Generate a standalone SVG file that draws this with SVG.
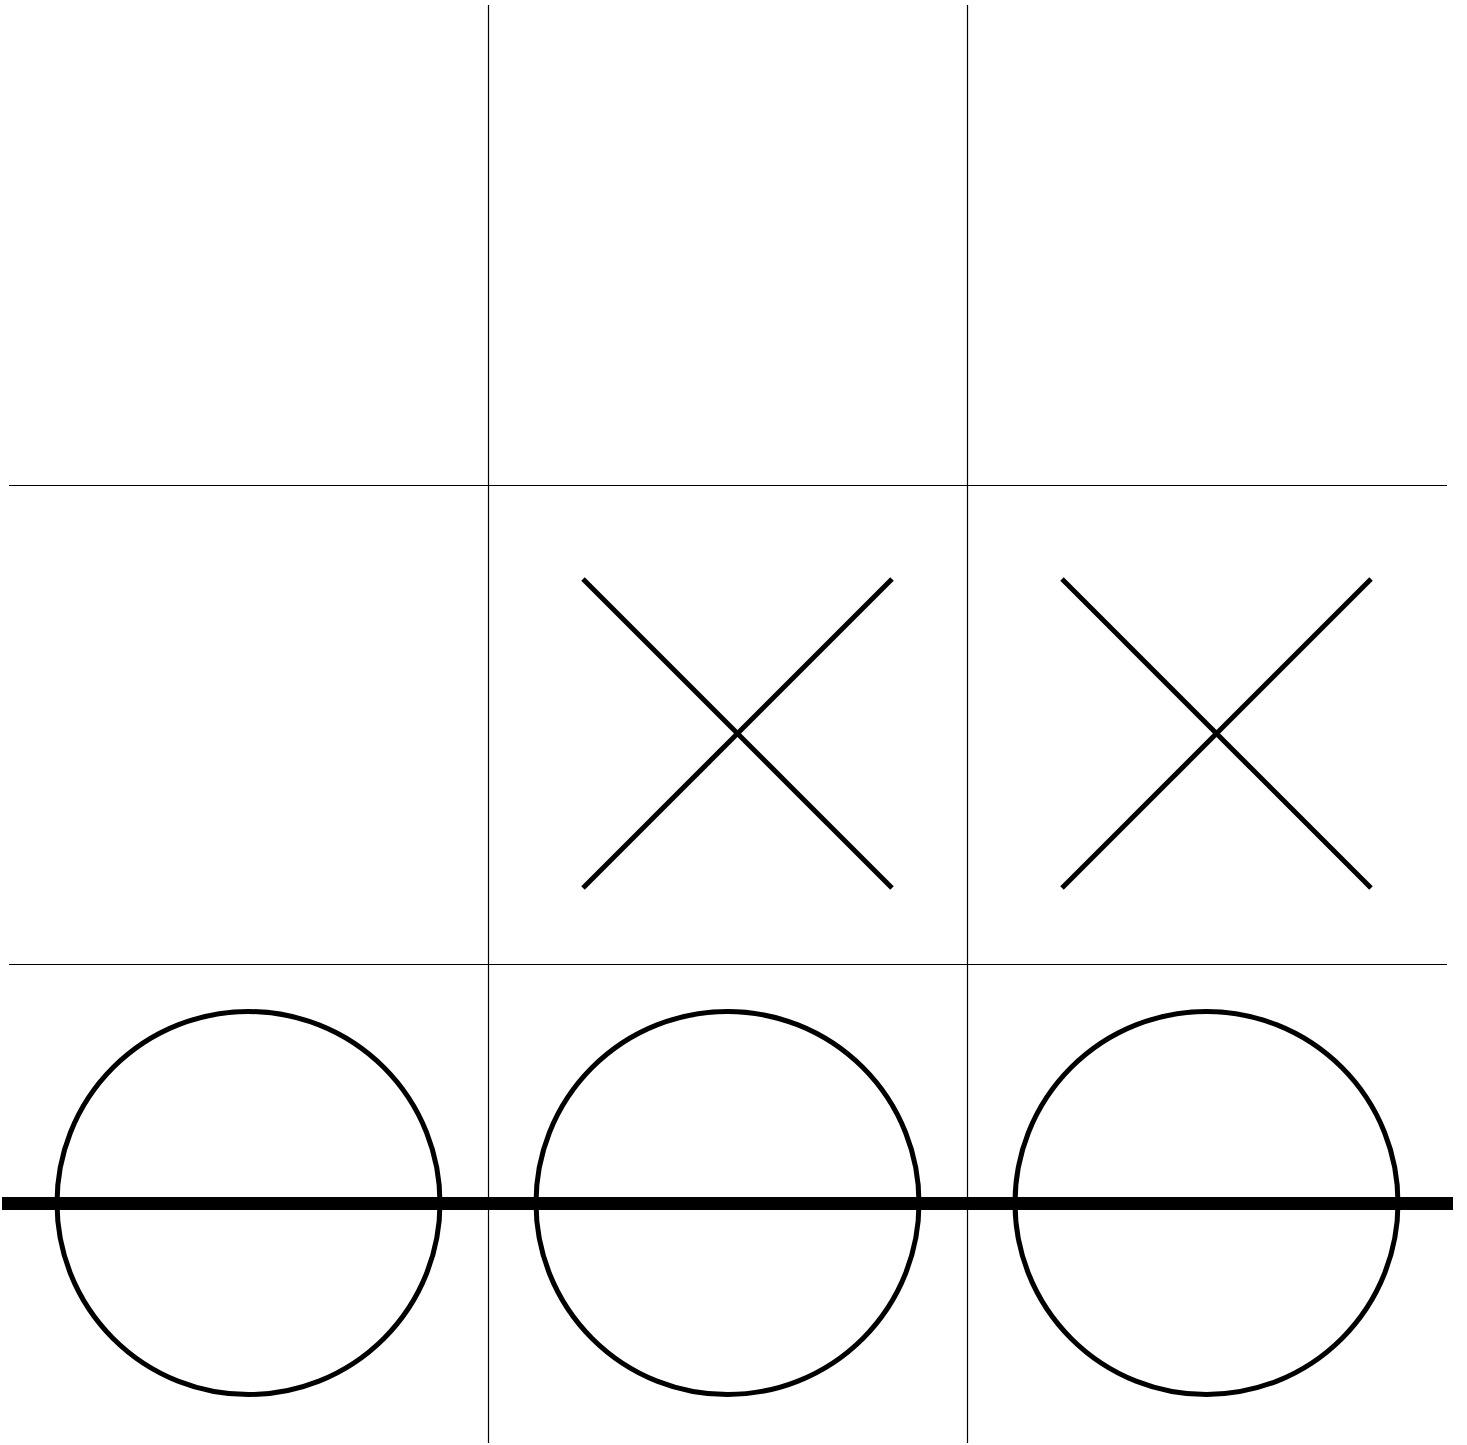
<svg xmlns="http://www.w3.org/2000/svg" width="1467" height="1445" viewBox="0 0 1467 1445">
<style>
.grid{stroke:#000;stroke-width:1.2;fill:none}
.x{stroke:#000;stroke-width:5;fill:none}
.o{stroke:#000;stroke-width:5;fill:none}
.win{stroke:#000;stroke-width:13;fill:none}
</style>
<rect width="1467" height="1445" fill="#fff"/>
<g id="grid">
<line class="grid" x1="488.5" y1="5" x2="488.5" y2="1443"/>
<line class="grid" x1="967.5" y1="5" x2="967.5" y2="1443"/>
<line class="grid" x1="9" y1="485.5" x2="1447" y2="485.5"/>
<line class="grid" x1="9" y1="964.5" x2="1447" y2="964.5"/>
</g>
<g id="x1">
<line class="x" x1="583" y1="579" x2="892" y2="888"/>
<line class="x" x1="892" y1="579" x2="583" y2="888"/>
</g>
<g id="x2">
<line class="x" x1="1062" y1="579" x2="1371" y2="888"/>
<line class="x" x1="1371" y1="579" x2="1062" y2="888"/>
</g>
<g id="o1"><circle class="o" cx="248.5" cy="1203" r="191.5"/></g>
<g id="o2"><circle class="o" cx="727.5" cy="1203" r="191.5"/></g>
<g id="o3"><circle class="o" cx="1206.5" cy="1203" r="191.5"/></g>
<g id="connectors">
<line class="win" x1="2" y1="1203.5" x2="1453" y2="1203.5"/>
</g>
</svg>
